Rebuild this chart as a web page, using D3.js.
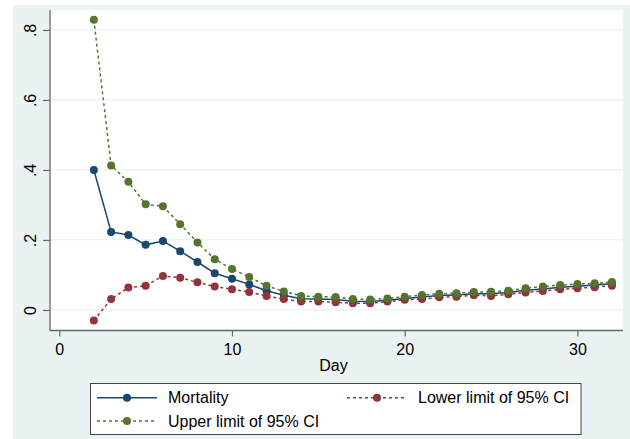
<!DOCTYPE html>
<html>
<head>
<meta charset="utf-8">
<script src="https://cdn.jsdelivr.net/npm/d3@7"></script>
<style>
  body { margin: 0; background: #fff; }
  svg { display: block; font-family: Arial, "Liberation Sans", sans-serif; }
</style>
</head>
<body>
<svg width="630" height="439"></svg>
<script>
// data
const days = [2,3,4,5,6,7,8,9,10,11,12,13,14,15,16,17,18,19,20,21,22,23,24,25,26,27,28,29,30,31,32];
const mortality = [.400,.223,.214,.186,.197,.168,.137,.105,.089,.073,.055,.042,.032,.031,.030,.025,.024,.028,.033,.037,.041,.043,.046,.046,.050,.056,.060,.065,.068,.071,.075];
const lowerCI = [-.030,.031,.064,.069,.097,.092,.079,.067,.059,.051,.040,.031,.024,.024,.022,.019,.019,.024,.029,.031,.036,.038,.042,.040,.045,.050,.054,.059,.062,.065,.069];
const upperCI = [.829,.413,.366,.302,.296,.245,.193,.145,.117,.094,.069,.053,.040,.038,.037,.031,.030,.033,.038,.043,.046,.048,.051,.052,.055,.062,.067,.071,.074,.076,.080];
const xTicks = [0, 10, 20, 30];
const yTicks = [0, .2, .4, .6, .8];
const yTickLabels = ['0', '.2', '.4', '.6', '.8'];

const svg = d3.select('svg');
const bg = '#eaf2f3';

// graph region
svg.append('rect').attr('x', 13).attr('y', 5).attr('width', 617).attr('height', 434).attr('fill', bg);

const plotLeft = 50, plotRight = 623, plotTop = 10, plotBottom = 330.5;
svg.append('rect').attr('x', plotLeft).attr('y', plotTop)
  .attr('width', plotRight - plotLeft).attr('height', plotBottom - plotTop).attr('fill', '#fff');

const x = d3.scaleLinear().domain([-0.539, 32.64]).range([plotLeft, plotRight]);
const y = d3.scaleLinear().domain([-0.0587, 0.857]).range([plotBottom, plotTop]);

// gridlines
svg.append('g')
  .selectAll('line')
  .data(yTicks)
  .enter()
  .append('line')
  .attr('x1', plotLeft).attr('x2', plotRight)
  .attr('y1', d => y(d)).attr('y2', d => y(d))
  .attr('stroke', bg).attr('stroke-width', 1.2);

// y axis
const yAxis = svg.append('g')
  .attr('transform', `translate(${plotLeft},0)`)
  .call(d3.axisLeft(y).tickValues(yTicks).tickSize(7).tickFormat((d, i) => yTickLabels[i]));
yAxis.select('.domain').attr('stroke', '#666').attr('stroke-width', 1.3).attr('d', `M0,${plotTop}V${plotBottom}`);
yAxis.selectAll('.tick line').attr('stroke', '#666').attr('stroke-width', 1.2);
yAxis.selectAll('.tick text')
  .attr('font-size', 16).attr('fill', '#000')
  .attr('x', -20).attr('dy', 0)
  .attr('text-anchor', 'middle')
  .attr('dominant-baseline', 'central')
  .attr('transform', 'rotate(-90,-20,0)');

// x axis
const xAxis = svg.append('g')
  .attr('transform', `translate(0,${plotBottom})`)
  .call(d3.axisBottom(x).tickValues(xTicks).tickSize(6).tickFormat(d3.format('d')));
xAxis.select('.domain').attr('stroke', '#666').attr('stroke-width', 1.3).attr('d', `M${plotLeft},0H${plotRight}`);
xAxis.selectAll('.tick line').attr('stroke', '#666').attr('stroke-width', 1.2);
xAxis.selectAll('.tick text').attr('font-size', 16).attr('fill', '#000').attr('y', 19).attr('dy', 0)
  .attr('dominant-baseline', 'central');

svg.append('text')
  .attr('x', (plotLeft + plotRight) / 2 - 3).attr('y', 365)
  .attr('text-anchor', 'middle').attr('dominant-baseline', 'central')
  .attr('font-size', 16).text('Day');

// series
const series = [
  { name: 'Mortality', values: mortality, color: '#1a476f', dash: null },
  { name: 'Lower limit of 95% CI', values: lowerCI, color: '#90353b', dash: '3,3' },
  { name: 'Upper limit of 95% CI', values: upperCI, color: '#55752f', dash: '3,3' }
];

const line = d3.line().x(d => x(d[0])).y(d => y(d[1]));

series.forEach(s => {
  const pts = days.map((d, i) => [d, s.values[i]]);
  const g = svg.append('g');
  g.append('path')
    .attr('d', line(pts))
    .attr('fill', 'none')
    .attr('stroke', s.color)
    .attr('stroke-width', 1.5)
    .attr('stroke-dasharray', s.dash);
  g.selectAll('circle')
    .data(pts)
    .enter()
    .append('circle')
    .attr('cx', d => x(d[0]))
    .attr('cy', d => y(d[1]))
    .attr('r', 4)
    .attr('fill', s.color);
});

// legend
svg.append('rect')
  .attr('x', 90.5).attr('y', 383.5).attr('width', 490.5).attr('height', 51)
  .attr('fill', '#fff').attr('stroke', '#444').attr('stroke-width', 1);

const legendPos = [
  { x: 97, y: 397.7 },
  { x: 347, y: 397.7 },
  { x: 97, y: 421 }
];

series.forEach((s, i) => {
  const p = legendPos[i];
  const g = svg.append('g');
  g.append('line')
    .attr('x1', p.x).attr('x2', p.x + 60)
    .attr('y1', p.y).attr('y2', p.y)
    .attr('stroke', s.color).attr('stroke-width', 1.5)
    .attr('stroke-dasharray', s.dash);
  g.append('circle').attr('cx', p.x + 30).attr('cy', p.y).attr('r', 4).attr('fill', s.color);
  g.append('text')
    .attr('x', p.x + 71).attr('y', p.y)
    .attr('dominant-baseline', 'central')
    .attr('font-size', 16)
    .text(s.name);
});
</script>
</body>
</html>
